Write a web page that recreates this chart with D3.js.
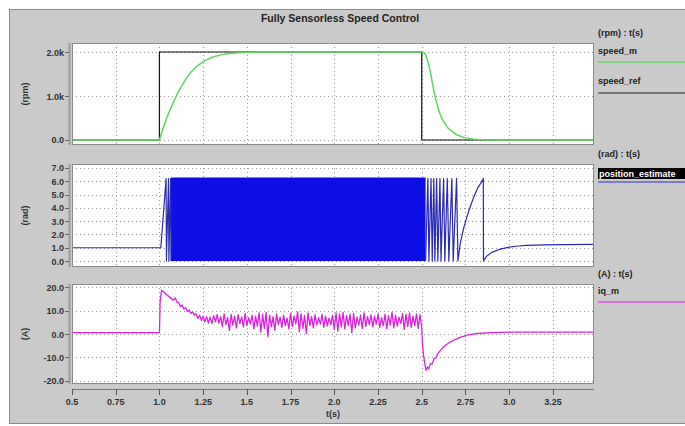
<!DOCTYPE html>
<html>
<head>
<meta charset="utf-8">
<script src="https://cdn.jsdelivr.net/npm/d3@7"></script>
<style>
  body { margin: 0; background: #fff; }
  svg { display: block; font-family: 'Liberation Sans', Arial, sans-serif; }
  .tick-label { font-size: 9px; font-weight: bold; fill: #333; }
  .legend { font-size: 9px; font-weight: bold; fill: #222; }
</style>
</head>
<body>
<svg id="chart" width="685" height="426"></svg>
<script>
// ---- data ----
const xTicks = [0.5, 0.75, 1.0, 1.25, 1.5, 1.75, 2.0, 2.25, 2.5, 2.75, 3.0, 3.25]
const xTickLabels = ['0.5', '0.75', '1.0', '1.25', '1.5', '1.75', '2.0', '2.25', '2.5', '2.75', '3.0', '3.25']

const speedTicks = [0, 1000, 2000]
const speedTickLabels = ['0.0', '1.0k', '2.0k']
const radTicks = [0, 1, 2, 3, 4, 5, 6, 7]
const radTickLabels = ['0.0', '1.0', '2.0', '3.0', '4.0', '5.0', '6.0', '7.0']
const ampTicks = [-20, -10, 0, 10, 20]
const ampTickLabels = ['-20.0', '-10.0', '0.0', '10.0', '20.0']

// speed_ref (rpm)
const speedRefT = [0.5, 1.0, 1.0, 2.5, 2.5, 3.485]
const speedRefV = [0, 0, 2000, 2000, 0, 0]

// speed_m (rpm)
const speedMT = [0.5, 1.0, 1.02, 1.04, 1.06, 1.08, 1.10, 1.12, 1.15, 1.18, 1.21, 1.25, 1.30, 1.35, 1.40, 1.48, 1.6,
  2.5, 2.51, 2.52, 2.53, 2.54, 2.55, 2.56, 2.57, 2.58, 2.60, 2.62, 2.65, 2.70, 2.75, 2.8, 2.85, 2.9, 3.485]
const speedMV = [0, 0, 260, 480, 680, 860, 1030, 1180, 1380, 1540, 1660, 1780, 1880, 1935, 1965, 1988, 2000,
  2000, 1990, 1950, 1860, 1720, 1530, 1310, 1100, 920, 640, 450, 270, 115, 48, 16, 4, 0, 0]

// position_estimate (rad): start, dense wrap band, slow-down tail
const posHeadT = [0.5, 1.008, 1.038, 1.040, 1.052, 1.054, 1.064, 1.066]
const posHeadV = [1.0, 1.0, 6.2, 0, 6.2, 0, 6.2, 0]
const posBandT = [1.066, 2.522]
const posBandLo = [0, 0]
const posBandHi = [6.28, 6.28]
const posTailT = [2.522, 2.535, 2.541, 2.553, 2.560, 2.569, 2.575, 2.585, 2.592, 2.604, 2.610, 2.625, 2.632,
  2.646, 2.655, 2.672, 2.680, 2.699, 2.707, 2.72, 2.74, 2.76, 2.78, 2.80, 2.82, 2.84, 2.852, 2.853,
  2.87, 2.90, 2.95, 3.0, 3.05, 3.1, 3.2, 3.3, 3.485]
const posTailV = [0, 6.2, 0, 6.2, 0, 6.2, 0, 6.2, 0, 6.2, 0, 6.2, 0,
  6.2, 0, 6.2, 0, 6.2, 0, 1.3, 2.5, 3.4, 4.2, 4.9, 5.5, 5.9, 6.2, 0,
  0.35, 0.65, 0.9, 1.05, 1.13, 1.18, 1.22, 1.24, 1.25]

// iq_m (A)
const iqHeadT = [0.5, 1.0, 1.004, 1.012, 1.02, 1.04, 1.06, 1.08, 1.09, 1.10]
const iqHeadV = [0.6, 0.6, 14, 18.6, 18.2, 16.8, 15.6, 14.4, 15.4, 13.6]
const iqNoiseStart = 1.11
const iqNoiseStep = 0.01
const iqNoiseV = [
  13.4, 11.6, 12.4, 10.6, 11.2, 9.6, 10.2, 8.8, 9.4, 8.0,
  8.6, 6.6, 8.0, 5.8, 7.6, 5.2, 7.4, 4.6, 7.2, 4.4,
  7.8, 5.2, 8.2, 4.6, 7.4, 3.2, 8.6, 4.0, 7.0, 1.5,
  8.4, 3.8, 7.6, 2.6, 8.2, 4.4, 7.2, 3.0, 8.8, 3.6,
  7.0, 4.2, 8.0, 2.2, 7.6, 3.4, 9.0, 0.8, 8.4, 2.4,
  9.2, -1.2, 8.0, 3.0, 7.4, 1.6, 8.6, 4.0, 7.2, 2.8,
  8.0, 3.6, 6.8, 2.2, 8.8, 3.2, 7.6, 4.4, 9.4, 1.0,
  8.6, 2.4, 7.8, 0.2, 9.0, 3.6, 7.4, 2.6, 8.2, 3.8,
  7.0, 4.2, 8.4, 2.8, 7.6, 3.4, 6.8, 4.0, 8.0, 2.0,
  9.0, 1.2, 8.6, 3.0, 9.2, 2.2, 7.8, 3.6, 8.4, 0.6,
  8.8, 2.6, 7.2, 3.8, 8.0, 2.4, 9.0, 3.2, 7.4, 4.0,
  8.2, 3.0, 7.6, 4.2, 8.6, 2.8, 7.0, 3.6, 8.4, 2.2,
  7.8, 3.8, 9.2, 2.6, 8.0, 3.4, 7.2, 4.4, 8.8, 2.0,
  8.4, 3.2, 9.0, 2.8, 7.6, 3.6, 8.6, 2.4, 8.2, 3.0
]
const iqTailT = [2.503, 2.51, 2.518, 2.525, 2.532, 2.54, 2.55, 2.56, 2.57, 2.58, 2.59, 2.60, 2.62, 2.64,
  2.66, 2.69, 2.72, 2.76, 2.8, 2.9, 3.0, 3.485]
const iqTailV = [-3, -9, -13, -15.5, -14, -14.8, -12.5, -12.8, -10.5, -10.2, -8.6, -7.6, -5.8, -4.6,
  -3.5, -2.4, -1.4, -0.5, 0.1, 0.6, 0.8, 0.8]

// ---- layout ----
const W = 685
const H = 426
const plotLeft = 72
const plotRight = 594
const axisY = 389
const legendX = 598

const svg = d3.select('#chart')

/**
 * Pairs a time array with a value array.
 *
 * @param {number[]} ts Times
 * @param {number[]} vs Values
 * @returns {number[][]} The [t, v] pairs
 */
function zip (ts, vs) {
  return ts.map((t, i) => [t, vs[i]])
}

const x = d3.scaleLinear().domain([0.5, 3.485]).range([plotLeft, plotRight])

// background panel
svg.append('rect').attr('width', W).attr('height', H).attr('fill', '#fff')
svg.append('rect')
  .attr('x', 9.5).attr('y', 9.5)
  .attr('width', W - 9).attr('height', H - 12)
  .attr('fill', '#cacaca')
  .attr('stroke', '#8a8a8a')

svg.append('text')
  .attr('x', 340).attr('y', 22)
  .attr('text-anchor', 'middle')
  .attr('font-size', 10.5).attr('font-weight', 'bold').attr('fill', '#222')
  .text('Fully Sensorless Speed Control')

/**
 * Draws a panel frame with its y axis, grid and axis title.
 *
 * @param {object} p The panel settings
 * @returns {*} The y scale of the panel
 */
function drawPanel (p) {
  const y = d3.scaleLinear().domain(p.domain).range([p.bottom, p.top])
  const g = svg.append('g')

  g.append('rect')
    .attr('x', plotLeft).attr('y', p.top)
    .attr('width', plotRight - plotLeft).attr('height', p.bottom - p.top)
    .attr('fill', '#fff')

  // grid
  g.selectAll('.hgrid')
    .data(p.ticks)
    .join('line')
    .attr('x1', plotLeft).attr('x2', plotRight)
    .attr('y1', (d) => Math.round(y(d)) + 0.5).attr('y2', (d) => Math.round(y(d)) + 0.5)
    .attr('stroke', '#9a9a9a').attr('stroke-dasharray', '1,3')
  g.selectAll('.vgrid')
    .data(xTicks.slice(1))
    .join('line')
    .attr('x1', (d) => Math.round(x(d)) + 0.5).attr('x2', (d) => Math.round(x(d)) + 0.5)
    .attr('y1', p.top).attr('y2', p.bottom)
    .attr('stroke', '#9a9a9a').attr('stroke-dasharray', '1,3')

  // y axis
  g.append('line')
    .attr('x1', 69.5).attr('x2', 69.5)
    .attr('y1', p.top).attr('y2', p.bottom)
    .attr('stroke', '#9c9c9c').attr('stroke-width', 2)
  g.selectAll('.ytick')
    .data(p.ticks)
    .join('line')
    .attr('x1', 65).attr('x2', 69)
    .attr('y1', (d) => Math.round(y(d)) + 0.5).attr('y2', (d) => Math.round(y(d)) + 0.5)
    .attr('stroke', '#666')
  g.selectAll('.ylabel')
    .data(p.ticks)
    .join('text')
    .attr('class', 'tick-label')
    .attr('x', 64).attr('y', (d) => y(d) + 3.5)
    .attr('text-anchor', 'end')
    .text((d, i) => p.labels[i])

  g.append('text')
    .attr('transform', 'translate(28,' + ((p.top + p.bottom) / 2) + ') rotate(-90)')
    .attr('class', 'tick-label')
    .attr('text-anchor', 'middle')
    .text(p.title)

  p.y = y
  p.g = g
  return y
}

const panels = [
  { top: 43, bottom: 145, domain: [-114, 2205], ticks: speedTicks, labels: speedTickLabels, title: '(rpm)' },
  { top: 164, bottom: 267, domain: [-0.45, 7.3], ticks: radTicks, labels: radTickLabels, title: '(rad)' },
  { top: 284, bottom: 384, domain: [-21.3, 21.3], ticks: ampTicks, labels: ampTickLabels, title: '(A)' }
]
panels.forEach(drawPanel)

/**
 * Draws a polyline in a panel.
 */
function drawLine (p, pts, color, width) {
  p.g.append('path')
    .datum(pts)
    .attr('fill', 'none')
    .attr('stroke', color)
    .attr('stroke-width', width)
    .attr('stroke-linejoin', 'round')
    .attr('d', d3.line().x((d) => x(d[0])).y((d) => p.y(d[1])))
}

// speed panel
drawLine(panels[0], zip(speedRefT, speedRefV), '#111', 1.2)
drawLine(panels[0], zip(speedMT, speedMV), '#5fd65f', 1.5)

// position panel
const pb = panels[1]
pb.g.append('path')
  .datum(posBandT.map((t, i) => [t, posBandLo[i], posBandHi[i]]))
  .attr('fill', '#0c10e6')
  .attr('d', d3.area().x((d) => x(d[0])).y0((d) => pb.y(d[1])).y1((d) => pb.y(d[2])))
drawLine(pb, zip(posHeadT, posHeadV), '#2a2ab8', 1.2)
drawLine(pb, zip(posTailT, posTailV), '#2a2ab8', 1.2)

// current panel
const iqNoiseT = iqNoiseV.map((v, i) => iqNoiseStart + i * iqNoiseStep)
const iqPts = zip(iqHeadT, iqHeadV).concat(zip(iqNoiseT, iqNoiseV), zip(iqTailT, iqTailV))
drawLine(panels[2], iqPts, '#e020e0', 1.3)

// frames on top of traces
panels.forEach((p) => {
  svg.append('rect')
    .attr('x', plotLeft + 0.5).attr('y', p.top + 0.5)
    .attr('width', plotRight - plotLeft - 1).attr('height', p.bottom - p.top - 1)
    .attr('fill', 'none').attr('stroke', '#8a8a8a')
})

// x axis
svg.append('line')
  .attr('x1', plotLeft).attr('x2', plotRight)
  .attr('y1', axisY + 0.5).attr('y2', axisY + 0.5)
  .attr('stroke', '#777')
svg.selectAll('.xtick')
  .data(xTicks)
  .join('line')
  .attr('x1', (d) => Math.round(x(d)) + 0.5).attr('x2', (d) => Math.round(x(d)) + 0.5)
  .attr('y1', axisY).attr('y2', axisY + 6)
  .attr('stroke', '#555')
svg.selectAll('.xlabel')
  .data(xTicks)
  .join('text')
  .attr('class', 'tick-label')
  .attr('x', (d) => x(d)).attr('y', 405)
  .attr('text-anchor', 'middle')
  .text((d, i) => xTickLabels[i])
svg.append('text')
  .attr('class', 'tick-label')
  .attr('x', (plotLeft + plotRight) / 2).attr('y', 417)
  .attr('text-anchor', 'middle')
  .text('t(s)')

// legends
const legend = svg.append('g')
legend.append('text').attr('class', 'legend').attr('x', legendX).attr('y', 36).text('(rpm) : t(s)')
legend.append('text').attr('class', 'legend').attr('x', legendX).attr('y', 54).text('speed_m')
legend.append('line').attr('x1', legendX).attr('x2', W).attr('y1', 62).attr('y2', 62)
  .attr('stroke', '#6ad86a').attr('stroke-width', 1.5)
legend.append('text').attr('class', 'legend').attr('x', legendX).attr('y', 84).text('speed_ref')
legend.append('line').attr('x1', legendX).attr('x2', W).attr('y1', 93).attr('y2', 93)
  .attr('stroke', '#222').attr('stroke-width', 1.2)

legend.append('text').attr('class', 'legend').attr('x', legendX).attr('y', 157).text('(rad) : t(s)')
legend.append('rect').attr('x', legendX).attr('y', 168).attr('width', W - legendX).attr('height', 11)
  .attr('fill', '#000')
legend.append('text').attr('class', 'legend').attr('x', legendX + 1).attr('y', 177)
  .style('fill', '#fff').text('position_estimate')
legend.append('line').attr('x1', legendX).attr('x2', W).attr('y1', 182).attr('y2', 182)
  .attr('stroke', '#7c7cd4').attr('stroke-width', 2)

legend.append('text').attr('class', 'legend').attr('x', legendX).attr('y', 277).text('(A) : t(s)')
legend.append('text').attr('class', 'legend').attr('x', legendX).attr('y', 294).text('iq_m')
legend.append('line').attr('x1', legendX).attr('x2', W).attr('y1', 302).attr('y2', 302)
  .attr('stroke', '#dd50dd').attr('stroke-width', 1.5)
</script>
</body>
</html>
